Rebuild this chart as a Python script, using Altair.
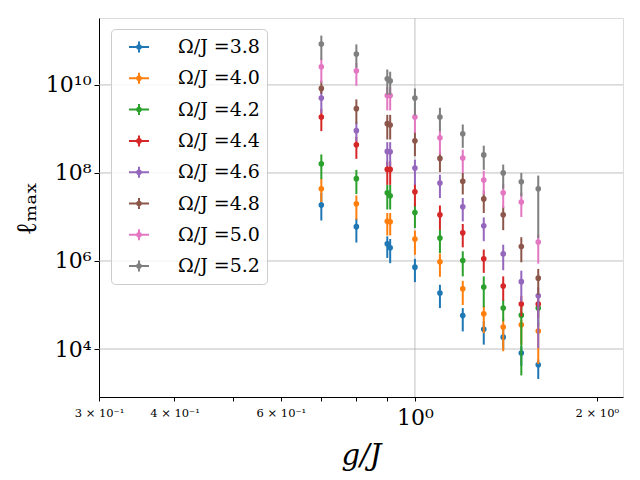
import altair as alt
import pandas as pd

# g/J positions of the columns
G = [0.7, 0.8, 0.9, 0.91, 1.0, 1.1, 1.2, 1.3, 1.4, 1.5, 1.6]

OMEGA = ["3.8", "4.0", "4.2", "4.4", "4.6", "4.8", "5.0", "5.2"]
COLORS = ["#1f77b4", "#ff7f0e", "#2ca02c", "#d62728",
          "#9467bd", "#8c564b", "#e377c2", "#7f7f7f"]

# log10(l_max): centre, lower end and upper end of the error bar
C_38 = [7.27, 6.78, 6.39, 6.30, 5.86, 5.27, 4.76, 4.45, 4.27, 3.91, 3.64]
L_38 = [6.92, 6.42, 6.07, 5.95, 5.52, 4.93, 4.40, 4.10, 4.00, 3.62, 3.32]
H_38 = [7.55, 6.97, 6.56, 6.50, 6.05, 5.46, 4.93, 4.63, 4.44, 4.06, 3.76]

C_40 = [7.64, 7.30, 6.90, 6.89, 6.50, 5.98, 5.37, 4.80, 4.50, 4.55, 4.41]
L_40 = [7.34, 6.94, 6.58, 6.58, 6.14, 5.64, 5.00, 4.36, 3.95, 4.10, 3.66]
H_40 = [7.87, 7.49, 7.09, 7.09, 6.69, 6.17, 5.55, 4.98, 4.68, 4.67, 4.60]

C_42 = [8.21, 7.87, 7.55, 7.48, 7.10, 6.52, 6.01, 5.41, 4.93, 4.77, 4.93]
L_42 = [7.86, 7.52, 7.17, 7.17, 6.75, 6.18, 5.65, 4.95, 4.63, 3.40, 4.50]
H_42 = [8.42, 8.07, 7.73, 7.73, 7.30, 6.72, 6.22, 5.65, 5.12, 4.96, 5.10]

C_44 = [9.27, 8.64, 8.08, 8.08, 7.57, 7.05, 6.64, 6.05, 5.43, 5.02, 5.02]
L_44 = [8.95, 8.32, 7.73, 7.73, 7.24, 6.71, 6.31, 5.73, 5.10, 4.74, 4.70]
H_44 = [9.45, 8.82, 8.26, 8.26, 7.76, 7.26, 6.84, 6.26, 5.65, 5.20, 5.20]

C_46 = [9.70, 8.96, 8.49, 8.48, 8.11, 7.77, 7.23, 6.80, 6.16, 5.53, 5.21]
L_46 = [9.36, 8.72, 8.15, 8.15, 7.73, 7.43, 6.90, 6.45, 5.79, 5.08, 4.02]
H_46 = [9.88, 9.15, 8.70, 8.70, 8.30, 7.96, 7.43, 6.99, 6.37, 5.78, 5.40]

C_48 = [9.92, 9.46, 9.12, 9.09, 8.73, 8.33, 7.81, 7.41, 7.05, 6.33, 5.61]
L_48 = [9.80, 9.12, 8.76, 8.76, 8.38, 8.02, 7.51, 7.09, 6.70, 5.97, 5.23]
H_48 = [10.10, 9.67, 9.32, 9.32, 8.95, 8.50, 8.00, 7.60, 7.25, 6.54, 5.82]

C_50 = [10.41, 10.32, 9.76, 9.76, 9.27, 8.80, 8.34, 7.84, 7.55, 7.34, 6.43]
L_50 = [10.05, 9.98, 9.42, 9.42, 8.91, 8.42, 8.00, 7.51, 7.20, 7.00, 5.94]
H_50 = [10.60, 10.50, 9.95, 9.95, 9.45, 8.98, 8.53, 8.05, 7.75, 7.55, 6.60]

C_52 = [10.93, 10.70, 10.14, 10.09, 9.70, 9.27, 8.89, 8.41, 8.00, 7.80, 7.64]
L_52 = [10.57, 10.39, 9.78, 9.78, 9.31, 8.95, 8.57, 8.07, 7.64, 7.47, 6.52]
H_52 = [11.12, 10.92, 10.35, 10.30, 9.92, 9.48, 9.10, 8.62, 8.19, 8.00, 7.94]

CENTRES = [C_38, C_40, C_42, C_44, C_46, C_48, C_50, C_52]
LOWS = [L_38, L_40, L_42, L_44, L_46, L_48, L_50, L_52]
HIGHS = [H_38, H_40, H_42, H_44, H_46, H_48, H_50, H_52]

X_DOMAIN = [0.3, 2.21]
Y_DOMAIN = [10 ** 2.91, 10 ** 11.52]

X_TICKS = [0.3, 0.4, 0.5, 0.6, 0.7, 0.8, 0.9, 1, 2]
X_LABELED = [0.3, 0.4, 0.6, 1, 2]
X_LABELS = ["3 × 10⁻¹", "4 × 10⁻¹", "6 × 10⁻¹", "10⁰", "2 × 10⁰"]
Y_TICKS = [1e4, 1e6, 1e8, 1e10]
Y_LABELS = ["10⁴", "10⁶", "10⁸", "10¹⁰"]
X_GRID = [1]
Y_GRID = [1e4, 1e6, 1e8, 1e10]

SERIF = "DejaVu Serif"


def ternary(values, labels):
    expr = "''"
    for v, lab in reversed(list(zip(values, labels))):
        expr = f"(abs(datum.value - {v}) < 1e-9 ? '{lab}' : {expr})"
    return expr


legend_names = ["Ω/J =" + o for o in OMEGA]

xscale = alt.Scale(type="log", domain=X_DOMAIN, nice=False)
yscale = alt.Scale(type="log", domain=Y_DOMAIN, nice=False)

xaxis = alt.Axis(
    values=X_TICKS, labelExpr=ternary(X_LABELED, X_LABELS), grid=False,
    title="g/J", titleFont=SERIF, titleFontSize=29, titleFontStyle="italic",
    titleFontWeight="normal", titleY=58, titleBaseline="middle",
    labelFont=SERIF,
    labelFontSize={"condition": {"test": "abs(datum.value - 1) < 1e-9", "value": 22}, "value": 11.5},
    labelFlush=False, labelOverlap=False, labelBound=False, labelPadding=6,
    tickSize=4, labelColor="black", tickColor="black", domainColor="black",
)
yaxis = alt.Axis(
    values=Y_TICKS, labelExpr=ternary(Y_TICKS, Y_LABELS), grid=False,
    title="ℓₘₐₓ", titleFont=SERIF, titleFontSize=28, titleFontWeight="normal",
    titleX=-72, titleY=190, titleBaseline="middle", titleAlign="center", titleAngle=270,
    labelFont=SERIF, labelFontSize=22, labelPadding=3,
    tickSize=5, labelColor="black", tickColor="black", domainColor="black",
    labelFlush=False, labelOverlap=False,
)

SYMBOL = ("M-1,0H1M0,-0.55V0.55M-0.18,0A0.18,0.18 0 1,0 0.18,0"
          "A0.18,0.18 0 1,0 -0.18,0Z")
legend = alt.Legend(
    title=None, orient="none", legendX=12, legendY=11,
    symbolType=SYMBOL, symbolSize=400, symbolOffset=10, symbolStrokeWidth=2,
    symbolOpacity=1,
    labelFont=SERIF, labelFontSize=19, labelOffset=28, labelColor="black",
    rowPadding=10.3, padding=7, strokeColor="#cccccc", fillColor="rgba(255,255,255,0.8)",
    cornerRadius=4,
)
cscale = alt.Scale(domain=legend_names, range=COLORS)

layers = []
gx = pd.DataFrame({"g": X_GRID})
gy = pd.DataFrame({"l": Y_GRID})
layers.append(alt.Chart(gx).mark_rule(color="#b0b0b0", strokeWidth=0.8).encode(
    x=alt.X("g:Q", scale=xscale, axis=xaxis)))
layers.append(alt.Chart(gy).mark_rule(color="#b0b0b0", strokeWidth=0.8).encode(
    y=alt.Y("l:Q", scale=yscale, axis=yaxis)))

for name, col, c, lo, hi in zip(legend_names, COLORS, CENTRES, LOWS, HIGHS):
    df = pd.DataFrame({
        "g": G,
        "ell": [10 ** v for v in c],
        "lo": [10 ** v for v in lo],
        "hi": [10 ** v for v in hi],
        "series": name,
    })
    base = alt.Chart(df)
    layers.append(base.mark_rule(color=col, strokeWidth=2).encode(
        x=alt.X("g:Q", scale=xscale),
        y=alt.Y("lo:Q", scale=yscale),
        y2="hi:Q",
    ))
    layers.append(base.mark_point(shape="circle", size=7, strokeWidth=3,
                                  filled=False, opacity=1).encode(
        x=alt.X("g:Q", scale=xscale),
        y=alt.Y("ell:Q", scale=yscale),
        color=alt.Color("series:N", scale=cscale, legend=legend),
    ))

chart = alt.layer(*layers).properties(
    width=524, height=379, autosize="none",
    padding={"left": 91, "top": 10, "right": 9, "bottom": 75},
).configure_view(stroke="black", strokeWidth=1).configure(background="white")

chart.save("out.html", embed_options={"renderer": "svg", "actions": False})
